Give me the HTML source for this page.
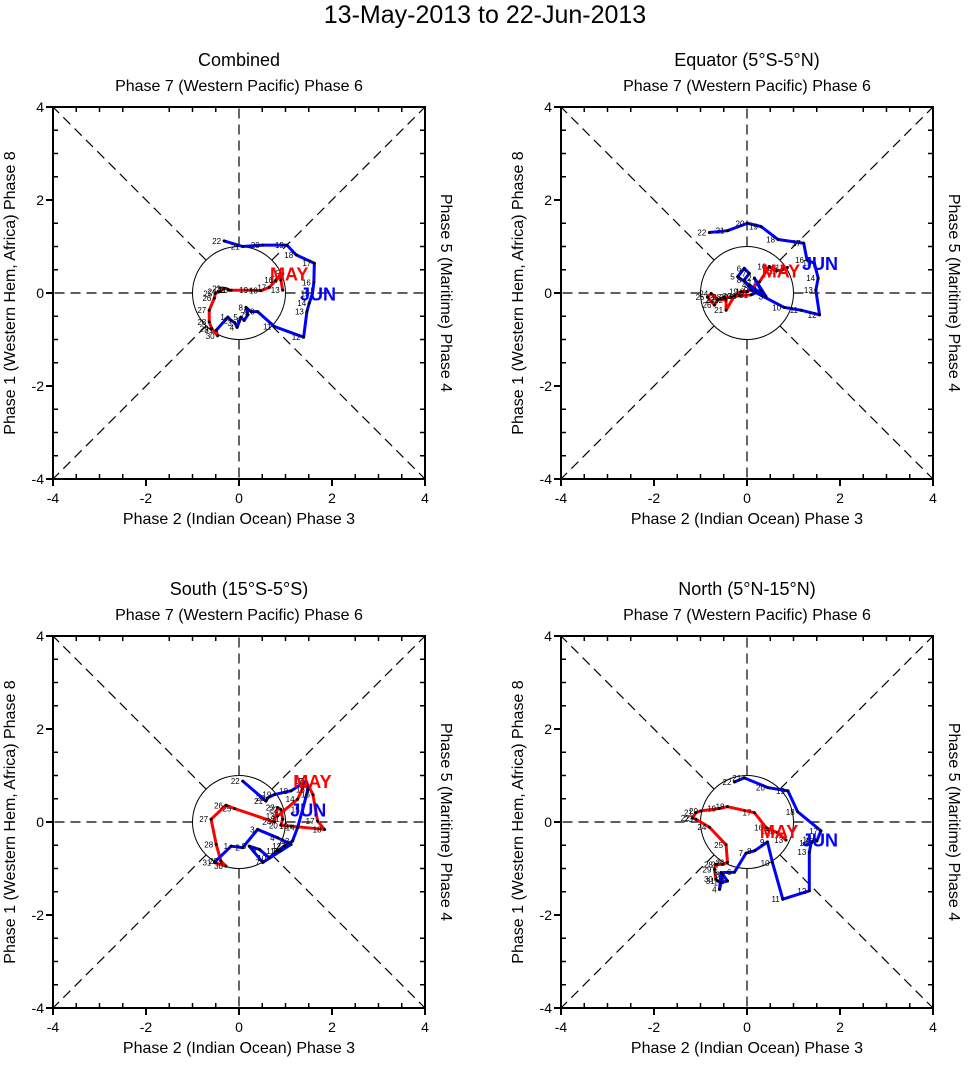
<!DOCTYPE html>
<html><head><meta charset="utf-8"><style>
body{margin:0;background:#fff;}
svg text{font-family:"Liberation Sans",sans-serif;}
</style></head><body>
<svg id="chart" width="971" height="1060" xmlns="http://www.w3.org/2000/svg">
<text x="485" y="23" font-size="25" text-anchor="middle">13-May-2013 to 22-Jun-2013</text>
</svg>
<script>
const panelTitles = ["Combined","Equator (5°S-5°N)","South (15°S-5°S)","North (5°N-15°N)"];
const tickValues = [-4,-2,0,2,4];
const mayDays = [13,14,15,16,17,18,19,20,21,22,23,24,25,26,27,28,29,30,31];
const junDays = [1,2,3,4,5,6,7,8,9,10,11,12,13,14,15,16,17,18,19,20,21,22];
const may1 = [[0.94,0.06],[0.90,0.28],[0.94,0.42],[0.80,0.28],[0.65,0.12],[0.47,0.05],[0.26,0.06],[-0.17,0.06],[-0.21,0.06],[-0.24,0.08],[-0.32,0.10],[-0.42,0.03],[-0.51,-0.01],[-0.53,-0.11],[-0.64,-0.37],[-0.64,-0.62],[-0.59,-0.76],[-0.46,-0.92],[-0.49,-0.80]];
const jun1 = [[-0.24,-0.52],[-0.17,-0.59],[-0.09,-0.64],[-0.04,-0.74],[0.04,-0.52],[0.11,-0.59],[0.19,-0.47],[0.15,-0.31],[0.26,-0.40],[0.40,-0.40],[0.76,-0.72],[1.39,-0.95],[1.46,-0.40],[1.51,-0.22],[1.58,-0.01],[1.61,0.23],[1.62,0.64],[1.23,0.82],[1.03,1.03],[0.51,1.03],[0.08,1.00],[-0.32,1.12]];
const may2 = [[0.87,0.55],[0.73,0.48],[0.59,0.48],[0.48,0.57],[0.27,0.24],[0.01,0.03],[-0.13,0.03],[-0.27,-0.06],[-0.45,-0.37],[-0.45,-0.15],[-0.63,-0.14],[-0.77,-0.01],[-0.85,-0.09],[-0.70,-0.26],[-0.63,-0.15],[-0.49,-0.09],[-0.34,-0.09],[-0.16,-0.06],[0.09,-0.04]];
const jun2 = [[0.30,0.06],[0.16,0.32],[0.41,-0.08],[0.05,0.17],[-0.20,0.35],[-0.06,0.53],[0.05,0.42],[-0.06,0.28],[0.09,0.06],[0.80,-0.31],[1.16,-0.37],[1.56,-0.47],[1.48,0.06],[1.53,0.32],[1.45,0.64],[1.29,0.71],[1.22,1.07],[0.67,1.15],[0.30,1.43],[0.01,1.50],[-0.42,1.34],[-0.81,1.30]];
const may3 = [[0.83,0.13],[1.26,0.49],[1.44,0.88],[1.59,0.59],[1.69,0.02],[1.84,-0.16],[1.12,-0.09],[0.90,-0.07],[0.94,0.06],[0.90,0.27],[0.83,0.31],[0.76,0.00],[-0.10,0.29],[-0.28,0.36],[-0.60,0.06],[-0.49,-0.48],[-0.39,-0.84],[-0.28,-0.95],[-0.53,-0.87]];
const jun3 = [[-0.17,-0.52],[0.08,-0.55],[0.40,-0.16],[0.83,-0.34],[1.12,-0.48],[0.90,-0.62],[0.51,-0.87],[0.22,-0.52],[0.44,-0.59],[0.65,-0.77],[0.83,-0.62],[0.97,-0.52],[1.15,-0.41],[1.26,-0.12],[1.37,0.27],[1.48,0.70],[1.44,0.88],[1.12,0.67],[0.76,0.59],[0.62,0.52],[0.58,0.45],[0.08,0.88]];
const may4 = [[0.84,-0.39],[0.66,-0.23],[0.55,-0.19],[0.41,-0.12],[0.16,0.20],[-0.42,0.33],[-0.60,0.29],[-0.99,0.24],[-1.10,0.20],[-1.17,0.09],[-1.10,0.06],[-0.81,-0.11],[-0.45,-0.49],[-0.42,-0.87],[-0.52,-0.91],[-0.67,-0.91],[-0.70,-1.02],[-0.67,-1.23],[-0.63,-1.27]];
const jun4 = [[-0.56,-1.30],[-0.42,-1.27],[-0.52,-1.13],[-0.59,-1.45],[-0.56,-1.09],[-0.27,-1.08],[-0.02,-0.67],[0.16,-0.62],[0.44,-0.43],[0.55,-0.88],[0.77,-1.66],[1.34,-1.48],[1.34,-0.65],[1.38,-0.45],[1.45,-0.38],[1.50,-0.41],[1.59,-0.19],[1.09,0.22],[0.88,0.67],[0.45,0.74],[-0.06,0.95],[-0.27,0.86]];
const mayData=[may1,may2,may3,may4], junData=[jun1,jun2,jun3,jun4];
const NS="http://www.w3.org/2000/svg";
const svg=document.getElementById('chart');
function mk(tag,attrs,parent){const e=document.createElementNS(NS,tag);for(const k in attrs)e.setAttribute(k,attrs[k]);(parent||svg).appendChild(e);return e;}
const origins=[[53,107],[561,107],[53,636],[561,636]];
const W=372, U=W/8;
origins.forEach((o,p)=>{
  const g=mk('g',{});
  
  
  const cx=o[0]+W/2, cy=o[1]+W/2;
  const sx=v=>cx+v*U, sy=v=>cy-v*U;
  const dl=[[1,0],[0,1],[1,1],[1,-1]];
  dl.forEach(d=>{
    const n=Math.hypot(d[0],d[1]);
    const ux=d[0]/n, uy=d[1]/n;
    const far=(d[0]&&d[1])?4*Math.SQRT2:4;
    [1,-1].forEach(s=>{
      const l=mk('line',{x1:sx(s*ux),y1:sy(s*uy),x2:sx(s*ux*far),y2:sy(s*uy*far),stroke:'#000','stroke-width':1.2,'stroke-dasharray':'10,6'},g);
      
      
    });
  });
  const c=mk('circle',{cx:cx,cy:cy,r:U,fill:'none',stroke:'#000','stroke-width':1},g);
  
  
  for(let v=-4;v<=4.001;v+=0.5){
    const major=Math.abs(v%2)<1e-6;
    if(major){
      mk('line',{x1:sx(v),y1:o[1]+W,x2:sx(v),y2:o[1]+W+7,stroke:'#000','stroke-width':2},g);
      mk('line',{x1:o[0],y1:sy(v),x2:o[0]-7,y2:sy(v),stroke:'#000','stroke-width':2},g);
    } else {
      mk('line',{x1:sx(v),y1:o[1]+W,x2:sx(v),y2:o[1]+W-5,stroke:'#000','stroke-width':1.5},g);
      mk('line',{x1:o[0],y1:sy(v),x2:o[0]+5,y2:sy(v),stroke:'#000','stroke-width':1.5},g);
      mk('line',{x1:sx(v),y1:o[1],x2:sx(v),y2:o[1]+5,stroke:'#000','stroke-width':1.5},g);
      mk('line',{x1:o[0]+W,y1:sy(v),x2:o[0]+W-5,y2:sy(v),stroke:'#000','stroke-width':1.5},g);
    }
  }
  tickValues.forEach(v=>{
    const t=mk('text',{x:sx(v),y:o[1]+W+24,'font-size':14,'text-anchor':'middle'},g);t.textContent=v;
    
    const t2=mk('text',{x:o[0]-9,y:sy(v)+5,'font-size':14,'text-anchor':'end'},g);t2.textContent=v;
    
  });
  const box=mk('rect',{x:o[0],y:o[1],width:W,height:W,fill:'none',stroke:'#000','stroke-width':2},g);
  
  const tt=mk('text',{x:cx,y:o[1]-41,'font-size':18,'text-anchor':'middle'},g);tt.textContent=panelTitles[p];
  
  const top=mk('text',{x:cx,y:o[1]-16,'font-size':16,'text-anchor':'middle'},g);top.textContent='Phase 7 (Western Pacific) Phase 6';
  
  const bot=mk('text',{x:cx,y:o[1]+W+45,'font-size':16,'text-anchor':'middle'},g);bot.textContent='Phase 2 (Indian Ocean) Phase 3';
  
  const lf=mk('text',{x:0,y:0,'font-size':16,'text-anchor':'middle',transform:`translate(${o[0]-38},${cy}) rotate(-90)`},g);lf.textContent='Phase 1 (Western Hem, Africa) Phase 8';
  
  const rt=mk('text',{x:0,y:0,'font-size':16,'text-anchor':'middle',transform:`translate(${o[0]+W+16},${cy}) rotate(90)`},g);rt.textContent='Phase 5 (Maritime) Phase 4';
  
  const mayPts=mayData[p], junPts=junData[p];
  const last=mayPts[mayPts.length-1];
  const series=[[mayPts,mayDays,'#f00','may'],[[last].concat(junPts),[null].concat(junDays),'#00f','jun']];
  series.forEach(s=>{
    const pl=mk('polyline',{points:s[0].map(q=>sx(q[0])+','+sy(q[1])).join(' '),fill:'none',stroke:s[2],'stroke-width':3,'stroke-linejoin':'round'},g);
    
  });
  series.forEach(s=>{
    s[0].forEach((q,i)=>{
      if(s[1][i]===null)return;
      const d=mk('circle',{cx:sx(q[0]),cy:sy(q[1]),r:1.5,fill:'#000'},g);
      
      const t=mk('text',{x:sx(q[0])-3,y:sy(q[1])+3,'font-size':8,'text-anchor':'end'},g);t.textContent=s[1][i];
      
    });
  });
  const m=mayPts[2], j=junPts[14];
  const ml=mk('text',{x:sx(m[0]+0.14),y:sy(m[1])+7,'font-size':18,'font-weight':'bold',fill:'#f00','text-anchor':'middle'},g);ml.textContent='MAY';
  
  const jl=mk('text',{x:sx(j[0]+0.12),y:sy(j[1])+7,'font-size':18,'font-weight':'bold',fill:'#00f','text-anchor':'middle'},g);jl.textContent='JUN';
  
});
</script>
</body></html>
